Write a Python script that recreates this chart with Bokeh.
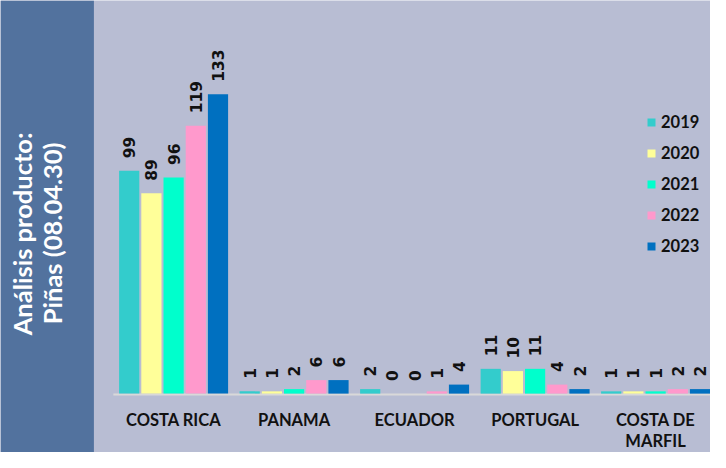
import numpy as np
from bokeh.plotting import figure
from bokeh.models import ColumnDataSource, Range1d, BoxAnnotation, Label
from bokeh.core.properties import value
from bokeh.embed import file_html
from bokeh.resources import INLINE

# ---------------- data ----------------
categories = ["COSTA RICA", "PANAMA", "ECUADOR", "PORTUGAL", "COSTA DE\nMARFIL"]
years = ["2019", "2020", "2021", "2022", "2023"]
v2019 = [99, 1, 2, 11, 1]
v2020 = [89, 1, 0, 10, 1]
v2021 = [96, 2, 0, 11, 1]
v2022 = [119, 6, 1, 4, 2]
v2023 = [133, 6, 4, 2, 2]
series = [v2019, v2020, v2021, v2022, v2023]
colors = ["#33CCCC", "#FFFF99", "#00FFCC", "#FF99CC", "#0070C0"]
side_title = ["Análisis producto:", "Piñas (08.04.30)"]

# ---------------- layout constants (pixels) ----------------
W, H = 710, 452
BG = "#B8BDD3"
PANEL = "#52729E"
CAT_PX = 120.5      # pixels per category
CAT0_PX = 173.1     # pixel x of first category centre
BASE_PX = 393.1     # pixel y (from top) of the zero line
UNIT_PX = 2.251     # pixels per value unit
PITCH = 22.2 / CAT_PX   # bar pitch within group (category units)
BAR_W = 20.2 / CAT_PX

x_start = -CAT0_PX / CAT_PX
x_end = x_start + W / CAT_PX
y_start = -(H - BASE_PX) / UNIT_PX
y_end = y_start + H / UNIT_PX


def fx(px):
    return x_start + px / CAT_PX


def fy(py):
    return y_start + (H - py) / UNIT_PX


p = figure(width=W, height=H,
           x_range=Range1d(x_start, x_end), y_range=Range1d(y_start, y_end),
           output_backend="svg", toolbar_location=None,
           x_axis_location=None, y_axis_location=None,
           min_border=0, background_fill_color=BG, border_fill_color=BG,
           outline_line_color=None)
p.grid.grid_line_color = None

idx = np.arange(len(categories))

# baseline (category axis line)
p.segment(x0=[-0.5], y0=[fy(BASE_PX + 1)], x1=[x_end], y1=[fy(BASE_PX + 1)],
          line_color="#D9D9D9", line_width=2)

lab_x, lab_y, lab_t = [], [], []
for j, (yr, vals, col) in enumerate(zip(years, series, colors)):
    xs = idx + (j - 2) * PITCH
    src = ColumnDataSource(dict(x=xs, top=vals))
    p.vbar(x="x", top="top", bottom=0, width=BAR_W, source=src,
           fill_color=col, line_color=None, legend_label=yr)
    lab_x += list(xs)
    lab_y += list(vals)
    lab_t += [str(v) for v in vals]

p.text(x=lab_x, y=lab_y, text=lab_t, angle=np.pi / 2,
       text_align="left", text_baseline="middle", y_offset=-12.5,
       text_font=value("DejaVu Sans"), text_font_style="bold",
       text_font_size="15.5px", text_color="#111111")

p.text(x=idx, y=[fy(409.5)] * len(idx), text=categories,
       text_align="center", text_baseline="top", text_line_height=1.04,
       text_font=value("Lato"), text_font_style="bold",
       text_font_size="16.5px", text_color="#111111")

# left side panel
p.add_layout(BoxAnnotation(left=x_start, right=fx(93.4), bottom=y_start, top=y_end,
                           fill_color=PANEL, fill_alpha=1, line_color=None))
for t, (px, py) in zip(side_title, [(21.5, 233.4), (51.3, 232.8)]):
    p.add_layout(Label(x=fx(px), y=fy(py), text=t, angle=np.pi / 2,
                       text_align="center", text_baseline="middle",
                       text_font="Lato", text_font_style="bold",
                       text_font_size="25.5px", text_color="white"))

lg = p.legend[0]
lg.location = (646, 196)
lg.glyph_width = 10
lg.glyph_height = 10
lg.label_height = 21
lg.spacing = 10
lg.padding = 0
lg.margin = 0
lg.border_line_color = None
lg.background_fill_alpha = 0
lg.label_text_font = "Lato"
lg.label_text_font_style = "bold"
lg.label_text_font_size = "16.5px"
lg.label_text_color = "#111111"
lg.label_standoff = 5

open("out.html", "w").write(file_html(p, INLINE))
